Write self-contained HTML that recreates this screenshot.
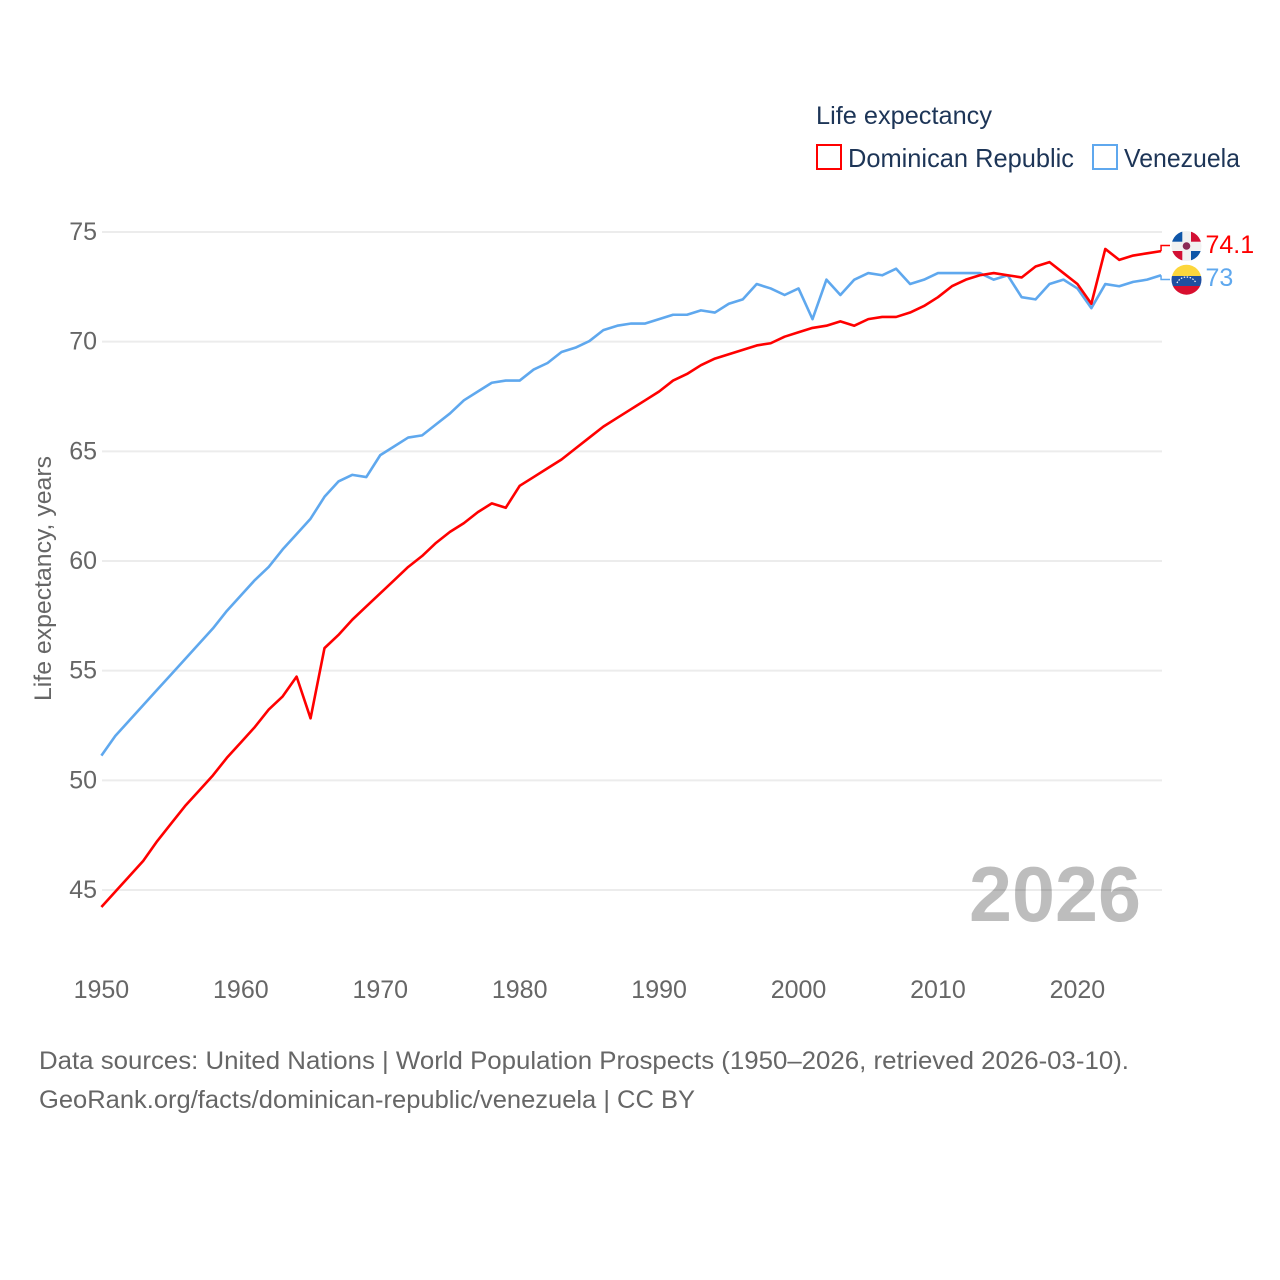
<!DOCTYPE html>
<html lang="en">
<head>
<meta charset="utf-8">
<title>Life expectancy: Dominican Republic and Venezuela</title>
<style>
html,body{margin:0;padding:0;background:#fff;width:1280px;height:1280px;overflow:hidden}
svg{display:block}
text{font-family:"Liberation Sans",sans-serif}
</style>
</head>
<body>
<svg id="chart" xmlns="http://www.w3.org/2000/svg" width="1280" height="1280" viewBox="0 0 1280 1280">
  <rect width="1280" height="1280" fill="#fff"/>
  <g id="grid"></g>
  <g id="ticks-y"></g>
  <g id="ticks-x"></g>
  <text transform="translate(51,701) rotate(-90)" font-size="24" fill="#666" textLength="245" lengthAdjust="spacingAndGlyphs">Life expectancy, years</text>
  <text x="969" y="921" font-size="78" font-weight="bold" fill="#000" fill-opacity="0.26" textLength="172" lengthAdjust="spacingAndGlyphs">2026</text>
  <g id="series"></g>
  <g>
    <text x="816" y="124" font-size="25" fill="#1d3557" textLength="176" lengthAdjust="spacingAndGlyphs">Life expectancy</text>
    <rect x="817" y="145" width="24" height="24" fill="#fff" stroke="#ff0000" stroke-width="2"/>
    <text x="848" y="167" font-size="26" fill="#1d3557" textLength="226" lengthAdjust="spacingAndGlyphs">Dominican Republic</text>
    <rect x="1093" y="145" width="24" height="24" fill="#fff" stroke="#5fa8ee" stroke-width="2"/>
    <text x="1124" y="167" font-size="26" fill="#1d3557" textLength="116" lengthAdjust="spacingAndGlyphs">Venezuela</text>
  </g>
  <defs>
    <clipPath id="clip-dr"><circle cx="1186.5" cy="246" r="15"/></clipPath>
    <clipPath id="clip-ve"><circle cx="1186.5" cy="279.7" r="15"/></clipPath>
  </defs>
  <g clip-path="url(#clip-dr)">
    <rect x="1171" y="230" width="31" height="32" fill="#f1f1f1"/>
    <rect x="1171" y="230" width="11.3" height="11.7" fill="#0f56a8"/>
    <rect x="1191" y="230" width="11" height="11.7" fill="#d21034"/>
    <rect x="1171" y="251" width="11.3" height="11" fill="#d21034"/>
    <rect x="1191" y="251" width="11" height="11" fill="#0f56a8"/>
    <circle cx="1186.5" cy="246" r="3.8" fill="#8a2a55"/>
  </g>
  <g clip-path="url(#clip-ve)">
    <rect x="1171" y="264" width="31" height="12" fill="#fcd63c"/>
    <rect x="1171" y="276" width="31" height="10" fill="#1f4fa0"/>
    <rect x="1171" y="286" width="31" height="10" fill="#d80f2f"/>
    <path d="M1177 283 A10.5 10.5 0 0 1 1196 283" fill="none" stroke="#fff" stroke-width="1.2" stroke-dasharray="1.5 1.5"/>
  </g>
  <text x="39" y="1069" font-size="25" fill="#666" textLength="1090" lengthAdjust="spacingAndGlyphs">Data sources: United Nations | World Population Prospects (1950–2026, retrieved 2026-03-10).</text>
  <text x="39" y="1108" font-size="25" fill="#666" textLength="656" lengthAdjust="spacingAndGlyphs">GeoRank.org/facts/dominican-republic/venezuela | CC BY</text>
</svg>
<script>
const years = [1950,1951,1952,1953,1954,1955,1956,1957,1958,1959,1960,1961,1962,1963,1964,1965,1966,1967,1968,1969,1970,1971,1972,1973,1974,1975,1976,1977,1978,1979,1980,1981,1982,1983,1984,1985,1986,1987,1988,1989,1990,1991,1992,1993,1994,1995,1996,1997,1998,1999,2000,2001,2002,2003,2004,2005,2006,2007,2008,2009,2010,2011,2012,2013,2014,2015,2016,2017,2018,2019,2020,2021,2022,2023,2024,2025,2026];
const dominicanRepublic = [44.2,44.9,45.6,46.3,47.2,48.0,48.8,49.5,50.2,51.0,51.7,52.4,53.2,53.8,54.7,52.8,56.0,56.6,57.3,57.9,58.5,59.1,59.7,60.2,60.8,61.3,61.7,62.2,62.6,62.4,63.4,63.8,64.2,64.6,65.1,65.6,66.1,66.5,66.9,67.3,67.7,68.2,68.5,68.9,69.2,69.4,69.6,69.8,69.9,70.2,70.4,70.6,70.7,70.9,70.7,71.0,71.1,71.1,71.3,71.6,72.0,72.5,72.8,73.0,73.1,73.0,72.9,73.4,73.6,73.1,72.6,71.7,74.2,73.7,73.9,74.0,74.1];
const venezuela = [51.1,52.0,52.7,53.4,54.1,54.8,55.5,56.2,56.9,57.7,58.4,59.1,59.7,60.5,61.2,61.9,62.9,63.6,63.9,63.8,64.8,65.2,65.6,65.7,66.2,66.7,67.3,67.7,68.1,68.2,68.2,68.7,69.0,69.5,69.7,70.0,70.5,70.7,70.8,70.8,71.0,71.2,71.2,71.4,71.3,71.7,71.9,72.6,72.4,72.1,72.4,71.0,72.8,72.1,72.8,73.1,73.0,73.3,72.6,72.8,73.1,73.1,73.1,73.1,72.8,73.0,72.0,71.9,72.6,72.8,72.4,71.5,72.6,72.5,72.7,72.8,73.0];
const yTickLabels = [45,50,55,60,65,70,75];
const xTickLabels = [1950,1960,1970,1980,1990,2000,2010,2020];
const drEndLabel = "74.1";
const veEndLabel = "73";

const NS = 'http://www.w3.org/2000/svg';
const xScale = function (year) { return 101.4 + (year - 1950) * (1078 - 102) / 70; };
const yScale = function (value) { return 890 - (value - 45) * (890 - 232) / 30; };
const pathFor = function (values) {
  return values.map(function (v, i) {
    return (i ? 'L' : 'M') + xScale(years[i]).toFixed(2) + ' ' + (yScale(v) - 0.6).toFixed(2);
  }).join(' ');
};
const gridGroup = document.getElementById('grid');
const yTickGroup = document.getElementById('ticks-y');
const xTickGroup = document.getElementById('ticks-x');
const seriesGroup = document.getElementById('series');
const lastYear = years[years.length - 1];

yTickLabels.forEach(function (tick) {
  const line = document.createElementNS(NS, 'line');
  
  
  line.setAttribute('x1', 102);
  line.setAttribute('x2', 1162);
  line.setAttribute('y1', yScale(tick));
  line.setAttribute('y2', yScale(tick));
  line.setAttribute('stroke', '#ececec');
  line.setAttribute('stroke-width', '2');
  gridGroup.appendChild(line);

  const label = document.createElementNS(NS, 'text');
  
  
  label.setAttribute('x', 97);
  label.setAttribute('y', yScale(tick) + 8);
  label.setAttribute('text-anchor', 'end');
  label.setAttribute('font-size', '25');
  label.setAttribute('fill', '#666');
  label.textContent = tick;
  yTickGroup.appendChild(label);
});

xTickLabels.forEach(function (tick) {
  const label = document.createElementNS(NS, 'text');
  
  
  label.setAttribute('x', xScale(tick));
  label.setAttribute('y', 998);
  label.setAttribute('text-anchor', 'middle');
  label.setAttribute('font-size', '25');
  label.setAttribute('fill', '#666');
  label.textContent = tick;
  xTickGroup.appendChild(label);
});

const veLine = document.createElementNS(NS, 'path');


veLine.setAttribute('d', pathFor(venezuela));
veLine.setAttribute('fill', 'none');
veLine.setAttribute('stroke', '#5fa8ee');
veLine.setAttribute('stroke-width', '2.6');
veLine.setAttribute('stroke-linejoin', 'round');
seriesGroup.appendChild(veLine);

const drLine = document.createElementNS(NS, 'path');


drLine.setAttribute('d', pathFor(dominicanRepublic));
drLine.setAttribute('fill', 'none');
drLine.setAttribute('stroke', '#ff0000');
drLine.setAttribute('stroke-width', '2.6');
drLine.setAttribute('stroke-linejoin', 'round');
seriesGroup.appendChild(drLine);

const endX = xScale(lastYear);
const drEndY = yScale(dominicanRepublic[dominicanRepublic.length - 1]) - 0.6;
const veEndY = yScale(venezuela[venezuela.length - 1]) - 0.6;

const drConnector = document.createElementNS(NS, 'path');


drConnector.setAttribute('d', 'M' + endX + ' ' + drEndY + ' V245.5 H1170');
drConnector.setAttribute('fill', 'none');
drConnector.setAttribute('stroke', '#ff0000');
drConnector.setAttribute('stroke-width', '1.5');
seriesGroup.appendChild(drConnector);

const veConnector = document.createElementNS(NS, 'path');


veConnector.setAttribute('d', 'M' + endX + ' ' + veEndY + ' V279.5 H1170');
veConnector.setAttribute('fill', 'none');
veConnector.setAttribute('stroke', '#5fa8ee');
veConnector.setAttribute('stroke-width', '1.5');
seriesGroup.appendChild(veConnector);

const drValue = document.createElementNS(NS, 'text');


drValue.setAttribute('x', 1205.5);
drValue.setAttribute('y', 253);
drValue.setAttribute('font-size', '25');
drValue.setAttribute('fill', '#ff0000');
drValue.textContent = drEndLabel;
seriesGroup.appendChild(drValue);

const veValue = document.createElementNS(NS, 'text');


veValue.setAttribute('x', 1205.5);
veValue.setAttribute('y', 286);
veValue.setAttribute('font-size', '25');
veValue.setAttribute('fill', '#5fa8ee');
veValue.textContent = veEndLabel;
seriesGroup.appendChild(veValue);
</script>
</body>
</html>
